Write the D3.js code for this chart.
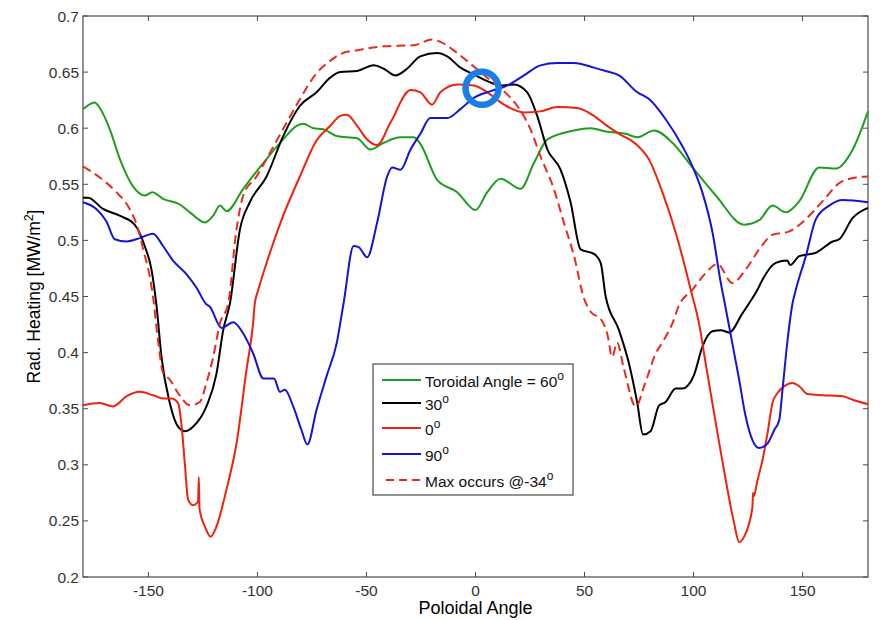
<!DOCTYPE html>
<html><head><meta charset="utf-8">
<script src="https://cdn.jsdelivr.net/npm/d3@7/dist/d3.min.js"></script>
<style>
html,body{margin:0;padding:0;background:#fff;}
svg{display:block;font-family:"Liberation Sans",Arial,sans-serif;}
</style></head>
<body><svg id="chart" width="881" height="620"></svg>
<script>
// ---- data (poloidal angle, MW/m^2) ----
const xTicks = [-150, -100, -50, 0, 50, 100, 150];
const yTicks = [0.2, 0.25, 0.3, 0.35, 0.4, 0.45, 0.5, 0.55, 0.6, 0.65, 0.7];
const yTickLabels = ["0.2","0.25","0.3","0.35","0.4","0.45","0.5","0.55","0.6","0.65","0.7"];

const tor60 = [[-180,0.617],[-174.6,0.623],[-172.3,0.618],[-167.7,0.599],[-163,0.572],[-157,0.548],[-151.7,0.540],[-148.2,0.543],[-143.3,0.537],[-135.6,0.532],[-131,0.525],[-124.1,0.516],[-120.3,0.522],[-117.2,0.531],[-114.2,0.526],[-106.5,0.546],[-97.3,0.569],[-88.2,0.590],[-82,0.602],[-79,0.604],[-74.4,0.600],[-69.8,0.599],[-63.7,0.593],[-54.3,0.591],[-48.2,0.581],[-42.1,0.587],[-34.4,0.592],[-28.3,0.592],[-25.3,0.586],[-17.6,0.554],[-8.4,0.543],[0,0.527],[5.4,0.543],[11.5,0.555],[20.7,0.546],[26.8,0.569],[33,0.590],[45.2,0.598],[52.8,0.600],[59.7,0.597],[68.9,0.595],[74.2,0.592],[81.9,0.598],[90.3,0.587],[99.5,0.565],[110.2,0.540],[123.2,0.514],[130.1,0.518],[136.2,0.531],[142.3,0.525],[148.5,0.535],[157.6,0.565],[165.3,0.564],[173,0.581],[180,0.615]];

const tor30 = [[-180,0.538],[-177.7,0.538],[-170.8,0.528],[-163.2,0.522],[-156.3,0.514],[-151.7,0.495],[-148.6,0.474],[-146.3,0.442],[-144,0.396],[-140.2,0.355],[-136.4,0.334],[-133.3,0.330],[-129.5,0.334],[-123.4,0.352],[-118.8,0.381],[-115.7,0.420],[-112.6,0.444],[-108,0.510],[-103.5,0.534],[-95.8,0.557],[-88.2,0.593],[-80.5,0.620],[-72.9,0.632],[-66.7,0.645],[-62,0.650],[-54.3,0.651],[-46.7,0.656],[-42.1,0.653],[-36.7,0.647],[-31.4,0.653],[-25.3,0.664],[-17.6,0.667],[-13,0.664],[-6.9,0.654],[-0.8,0.648],[5.4,0.642],[11.5,0.638],[17.6,0.639],[23.7,0.632],[28.3,0.611],[33,0.581],[39,0.563],[43.6,0.534],[48.2,0.492],[54.3,0.488],[57.4,0.480],[59.7,0.450],[65.8,0.420],[70.4,0.390],[74.2,0.355],[76.8,0.327],[80.3,0.330],[84.2,0.353],[87.2,0.356],[91.8,0.368],[94.9,0.368],[100.2,0.380],[104,0.405],[108.7,0.419],[112.5,0.420],[116.3,0.418],[122.4,0.435],[125.5,0.444],[129.3,0.456],[131.6,0.465],[137.7,0.480],[143,0.482],[144.3,0.478],[148.5,0.486],[156.1,0.489],[163.8,0.499],[166.8,0.501],[173,0.520],[180,0.529]];

const tor0 = [[-180,0.353],[-172.3,0.355],[-166.2,0.352],[-160.1,0.361],[-154,0.365],[-147.9,0.362],[-143.3,0.359],[-139.5,0.359],[-136.4,0.355],[-134.9,0.337],[-133.3,0.301],[-131.8,0.269],[-129.5,0.264],[-127.7,0.266],[-127.2,0.268],[-126.9,0.289],[-126.6,0.262],[-126.3,0.258],[-124.1,0.245],[-121.5,0.236],[-118.8,0.245],[-114.2,0.278],[-109.6,0.319],[-105,0.385],[-102,0.426],[-101.2,0.444],[-99.6,0.456],[-95.8,0.480],[-88.2,0.522],[-80.5,0.557],[-72.9,0.589],[-66.7,0.602],[-62,0.611],[-58.9,0.612],[-54.3,0.602],[-49.7,0.590],[-45.1,0.585],[-39,0.605],[-29.8,0.634],[-25.3,0.632],[-19.9,0.621],[-16.1,0.632],[-8.4,0.639],[-0.8,0.638],[5.4,0.632],[13,0.621],[22.2,0.614],[29.8,0.615],[37.5,0.619],[46.7,0.618],[54.3,0.611],[59.7,0.603],[65.8,0.595],[73.5,0.586],[79.6,0.572],[85.7,0.543],[91.8,0.507],[96.4,0.474],[98.7,0.456],[102.5,0.426],[105.6,0.390],[110.2,0.337],[114.8,0.286],[118.6,0.248],[120.9,0.231],[123.2,0.236],[125.5,0.248],[127,0.263],[127.3,0.275],[127.6,0.272],[129.3,0.286],[131.6,0.304],[133.9,0.328],[136.2,0.355],[138.5,0.364],[142.3,0.371],[145.4,0.373],[148.5,0.370],[152.3,0.363],[159.2,0.362],[168.4,0.361],[173,0.358],[180,0.354]];

const tor90 = [[-180,0.534],[-173.9,0.528],[-169.3,0.517],[-165.4,0.501],[-160.1,0.499],[-154,0.502],[-147.9,0.506],[-143.3,0.495],[-138.7,0.482],[-132.6,0.470],[-128,0.458],[-123.4,0.443],[-121.9,0.441],[-116.5,0.422],[-111.1,0.427],[-106.5,0.417],[-101.9,0.399],[-97.3,0.377],[-92.4,0.377],[-89.7,0.365],[-87.4,0.367],[-83.6,0.352],[-79.8,0.331],[-77.1,0.318],[-72.9,0.349],[-68.3,0.379],[-63.7,0.408],[-60.5,0.444],[-55.9,0.495],[-53.6,0.494],[-49.7,0.485],[-45.1,0.516],[-40.5,0.557],[-38.2,0.565],[-34.4,0.563],[-29.8,0.581],[-25.3,0.595],[-20.7,0.609],[-13,0.609],[-6.9,0.617],[-0.8,0.627],[6.9,0.633],[14.5,0.638],[22.2,0.647],[29.8,0.656],[37.5,0.658],[45.2,0.658],[54.3,0.654],[59.7,0.651],[65.8,0.647],[74.2,0.632],[79.6,0.626],[87.2,0.608],[94.9,0.584],[99.5,0.566],[104,0.543],[108.7,0.507],[112.5,0.462],[114.5,0.442],[117.8,0.408],[120.9,0.376],[123.9,0.343],[127,0.322],[130.1,0.315],[133.9,0.319],[137,0.331],[139.3,0.340],[140.8,0.367],[143.1,0.411],[145.4,0.444],[146.9,0.456],[151.5,0.486],[156.1,0.519],[162.2,0.531],[168.4,0.536],[180,0.534]];

const maxCurve = [[-180,0.566],[-172.3,0.556],[-164.7,0.543],[-158.6,0.528],[-154.7,0.510],[-152.4,0.492],[-149.4,0.468],[-147.9,0.450],[-145.6,0.411],[-143.3,0.382],[-140.2,0.376],[-136.4,0.364],[-131,0.353],[-126.4,0.356],[-123.4,0.373],[-120.3,0.396],[-117.2,0.426],[-113.4,0.444],[-109.6,0.510],[-106.5,0.540],[-100.4,0.557],[-94.3,0.578],[-86.6,0.605],[-80.5,0.626],[-72.9,0.649],[-66.7,0.660],[-62,0.666],[-52.8,0.670],[-42.1,0.673],[-28.3,0.674],[-19.9,0.679],[-16.1,0.677],[-8.4,0.667],[-0.8,0.655],[5.4,0.645],[13,0.633],[19.1,0.620],[25.2,0.599],[29.8,0.575],[35.9,0.546],[40.5,0.516],[45.2,0.486],[49.8,0.448],[53,0.436],[57.4,0.430],[60.4,0.417],[62.7,0.396],[64.9,0.409],[68,0.386],[73.5,0.352],[77.5,0.371],[82.6,0.399],[86,0.410],[90.3,0.426],[93.3,0.442],[99.5,0.456],[105.6,0.471],[110.9,0.479],[117.8,0.462],[123.9,0.474],[130.1,0.492],[136.2,0.505],[143.9,0.508],[151.5,0.519],[159.2,0.535],[166.8,0.551],[174.5,0.556],[180,0.557]];

const legendLabels = ["Toroidal Angle = 60", "30", "0", "90", "Max occurs @-34"];
const markerPoint = [3, 0.6355];

// ---- layout ----
const svg = d3.select("#chart");
const L = 83, T = 16, R = 868, B = 577;
const x = d3.scaleLinear().domain([-180, 180]).range([L, R]);
const y = d3.scaleLinear().domain([0.2, 0.7]).range([B, T]);
const axisCol = "#4a4a4a", textCol = "#333";

// plot box
svg.append("rect").attr("x", L).attr("y", T).attr("width", R - L).attr("height", B - T)
  .attr("fill", "none").attr("stroke", axisCol).attr("stroke-width", 1.2);

// ticks (inside, all four sides)
const tl = 5;
xTicks.forEach(v => {
  svg.append("line").attr("x1", x(v)).attr("x2", x(v)).attr("y1", B).attr("y2", B - tl).attr("stroke", axisCol);
  svg.append("line").attr("x1", x(v)).attr("x2", x(v)).attr("y1", T).attr("y2", T + tl).attr("stroke", axisCol);
  svg.append("text").attr("x", x(v)).attr("y", 596).attr("text-anchor", "middle")
    .attr("font-size", 15.5).attr("fill", textCol).text(v);
});
yTicks.forEach((v, i) => {
  svg.append("line").attr("x1", L).attr("x2", L + tl).attr("y1", y(v)).attr("y2", y(v)).attr("stroke", axisCol);
  svg.append("line").attr("x1", R).attr("x2", R - tl).attr("y1", y(v)).attr("y2", y(v)).attr("stroke", axisCol);
  svg.append("text").attr("x", 79).attr("y", y(v) + 5.5).attr("text-anchor", "end")
    .attr("font-size", 15.5).attr("fill", textCol).text(yTickLabels[i]);
});

// axis labels
svg.append("text").attr("x", (L + R) / 2).attr("y", 614).attr("text-anchor", "middle")
  .attr("font-size", 18).attr("fill", "#000").text("Poloidal Angle");
const yl = svg.append("text").attr("transform", `translate(40,${(T + B) / 2}) rotate(-90)`)
  .attr("text-anchor", "middle").attr("font-size", 17.5).attr("fill", "#000");
yl.append("tspan").text("Rad. Heating [MW/m");
yl.append("tspan").attr("font-size", 12).attr("dy", -7).text("2");
yl.append("tspan").attr("dy", 7).text("]");

// curves
const line = d3.line().x(d => x(d[0])).y(d => y(d[1])).curve(d3.curveMonotoneX);
const series = [
  {data: tor60, color: "#1e9e1e", dash: null},
  {data: tor30, color: "#000000", dash: null},
  {data: tor0, color: "#f2200c", dash: null},
  {data: tor90, color: "#1414d8", dash: null},
  {data: maxCurve, color: "#ea2a1a", dash: "9,5"}
];
const g = svg.append("g");
series.forEach(s => {
  g.append("path").attr("d", line(s.data)).attr("fill", "none").attr("stroke", s.color)
    .attr("stroke-width", 2).attr("stroke-linejoin", "round")
    .attr("stroke-dasharray", s.dash);
});

// highlight circle
svg.append("circle").attr("cx", x(markerPoint[0])).attr("cy", y(markerPoint[1])).attr("r", 16.5)
  .attr("fill", "none").attr("stroke", "#1a7ee8").attr("stroke-width", 6.5);

// legend
const lg = svg.append("g");
lg.append("rect").attr("x", 373).attr("y", 364).attr("width", 200).attr("height", 131)
  .attr("fill", "#fff").attr("stroke", axisCol).attr("stroke-width", 1.2);
const rowsY = [380, 403, 428, 454, 480];
series.forEach((s, i) => {
  lg.append("line").attr("x1", s.dash ? 386 : 382).attr("x2", 421).attr("y1", rowsY[i]).attr("y2", rowsY[i])
    .attr("stroke", s.color).attr("stroke-width", 2).attr("stroke-dasharray", s.dash ? "8,5" : null);
  const t = lg.append("text").attr("x", 425).attr("y", rowsY[i] + 7).attr("font-size", 15.5).attr("fill", "#111");
  t.append("tspan").text(legendLabels[i]);
  t.append("tspan").attr("font-size", 12).attr("dy", -7).text("o");
});
</script>
</body></html>
